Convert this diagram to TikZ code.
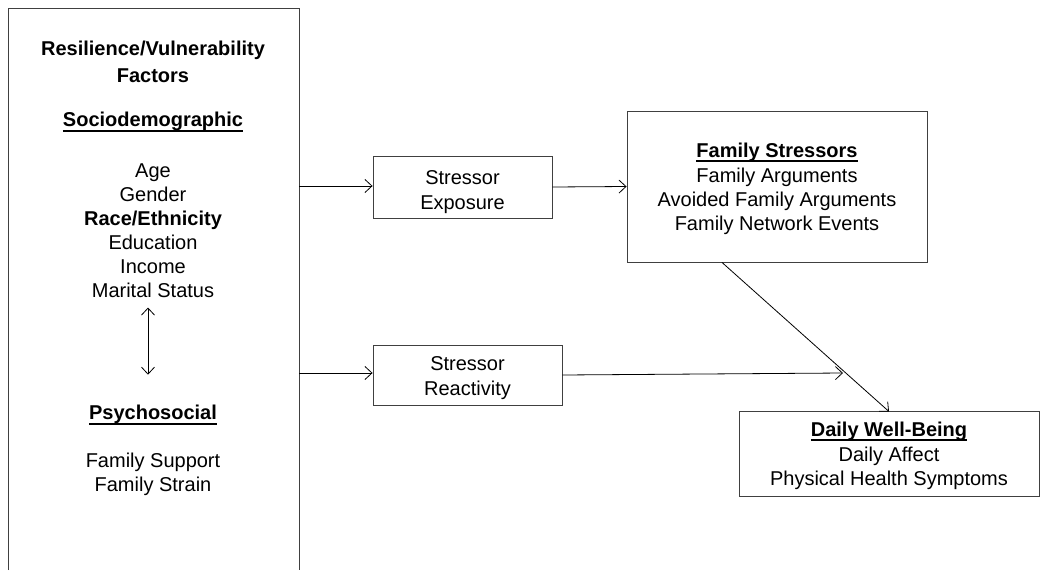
\documentclass[tikz,border=0pt]{standalone}
\usepackage{fontspec}
\setmainfont{Liberation Sans}
\usetikzlibrary{positioning}
\usetikzlibrary{arrows.meta}

\tikzset{
  box/.style={draw=black!75, line width=0.9pt, align=center, inner sep=0pt},
  txt/.style={align=center, font=\fontsize{20}{24}\selectfont},
}

\newcommand{\ulhead}[1]{\setbox0\hbox{\textbf{#1}}\rlap{\rule[-5pt]{\wd0}{2pt}}\box0}
\newcommand{\lift}[1]{\rule{0pt}{#1}}

\begin{document}
\begin{tikzpicture}[x=1pt, y=-1pt, >={Straight Barb[length=7pt,width=13pt]}]
  \useasboundingbox (0,0) rectangle (1040,570);

  % left column, open at the bottom
  \draw[black!75, line width=0.9pt] (8,570) |- (299,8) -- (299,570);

  \node[txt] at (153, 62)  (n_title)  {\textbf{Resilience/Vulnerability}\\[3pt]\textbf{Factors}};
  \node[txt] at (153, 122) (n_socio)  {\ulhead{Sociodemographic}};
  \node[txt] at (153, 231) (n_demo)   {Age\\Gender\\\textbf{Race/Ethnicity}\\Education\\Income\\Marital Status};
  \node[txt] at (153, 415) (n_psych)  {\ulhead{Psychosocial}};
  \node[txt] at (153, 474) (n_supp)   {Family Support\\Family Strain};

  \draw [<->, line width=0.8pt] ([xshift=-5pt, yshift=-6pt]n_demo.south) -- ([xshift=-5pt, yshift=27pt]n_psych.north);

  % boxes on the right
  \node[box, txt, minimum width=179pt, minimum height=62pt] at (462.5, 187) (n_expo)  {\lift{25pt}Stressor\\[1pt]Exposure};
  \node[box, txt, minimum width=189pt, minimum height=60pt] at (467.5, 375) (n_react) {\lift{21pt}Stressor\\[1pt]Reactivity};
  \node[box, txt, minimum width=300pt, minimum height=151pt] at (777, 186.5) (n_fam) {\lift{19pt}\ulhead{Family Stressors}\\[1pt]Family Arguments\\Avoided Family Arguments\\Family Network Events};
  \node[box, txt, minimum width=300pt, minimum height=85pt] at (889, 453.5) (n_well) {\lift{19pt}\ulhead{Daily Well-Being}\\[1pt]Daily Affect\\Physical Health Symptoms};

  \coordinate (c_expo)  at (299, 186);
  \coordinate (c_react) at (299, 373);
  \coordinate (c_end)   at (843, 373);

  \draw [->, line width=0.8pt] (c_expo) -- (c_expo -| n_expo.west);
  \draw [->, line width=0.8pt] (c_react) -- (c_react -| n_react.west);
  \draw [->, line width=0.8pt] (n_expo.east) -- (n_fam.west);
  \draw [->, line width=0.8pt] (n_react.east) -- (c_end);
  \draw [->, line width=0.8pt] ([xshift=-55pt]n_fam.south) -- ([yshift=-1pt]n_well.north);

\end{tikzpicture}
\end{document}
